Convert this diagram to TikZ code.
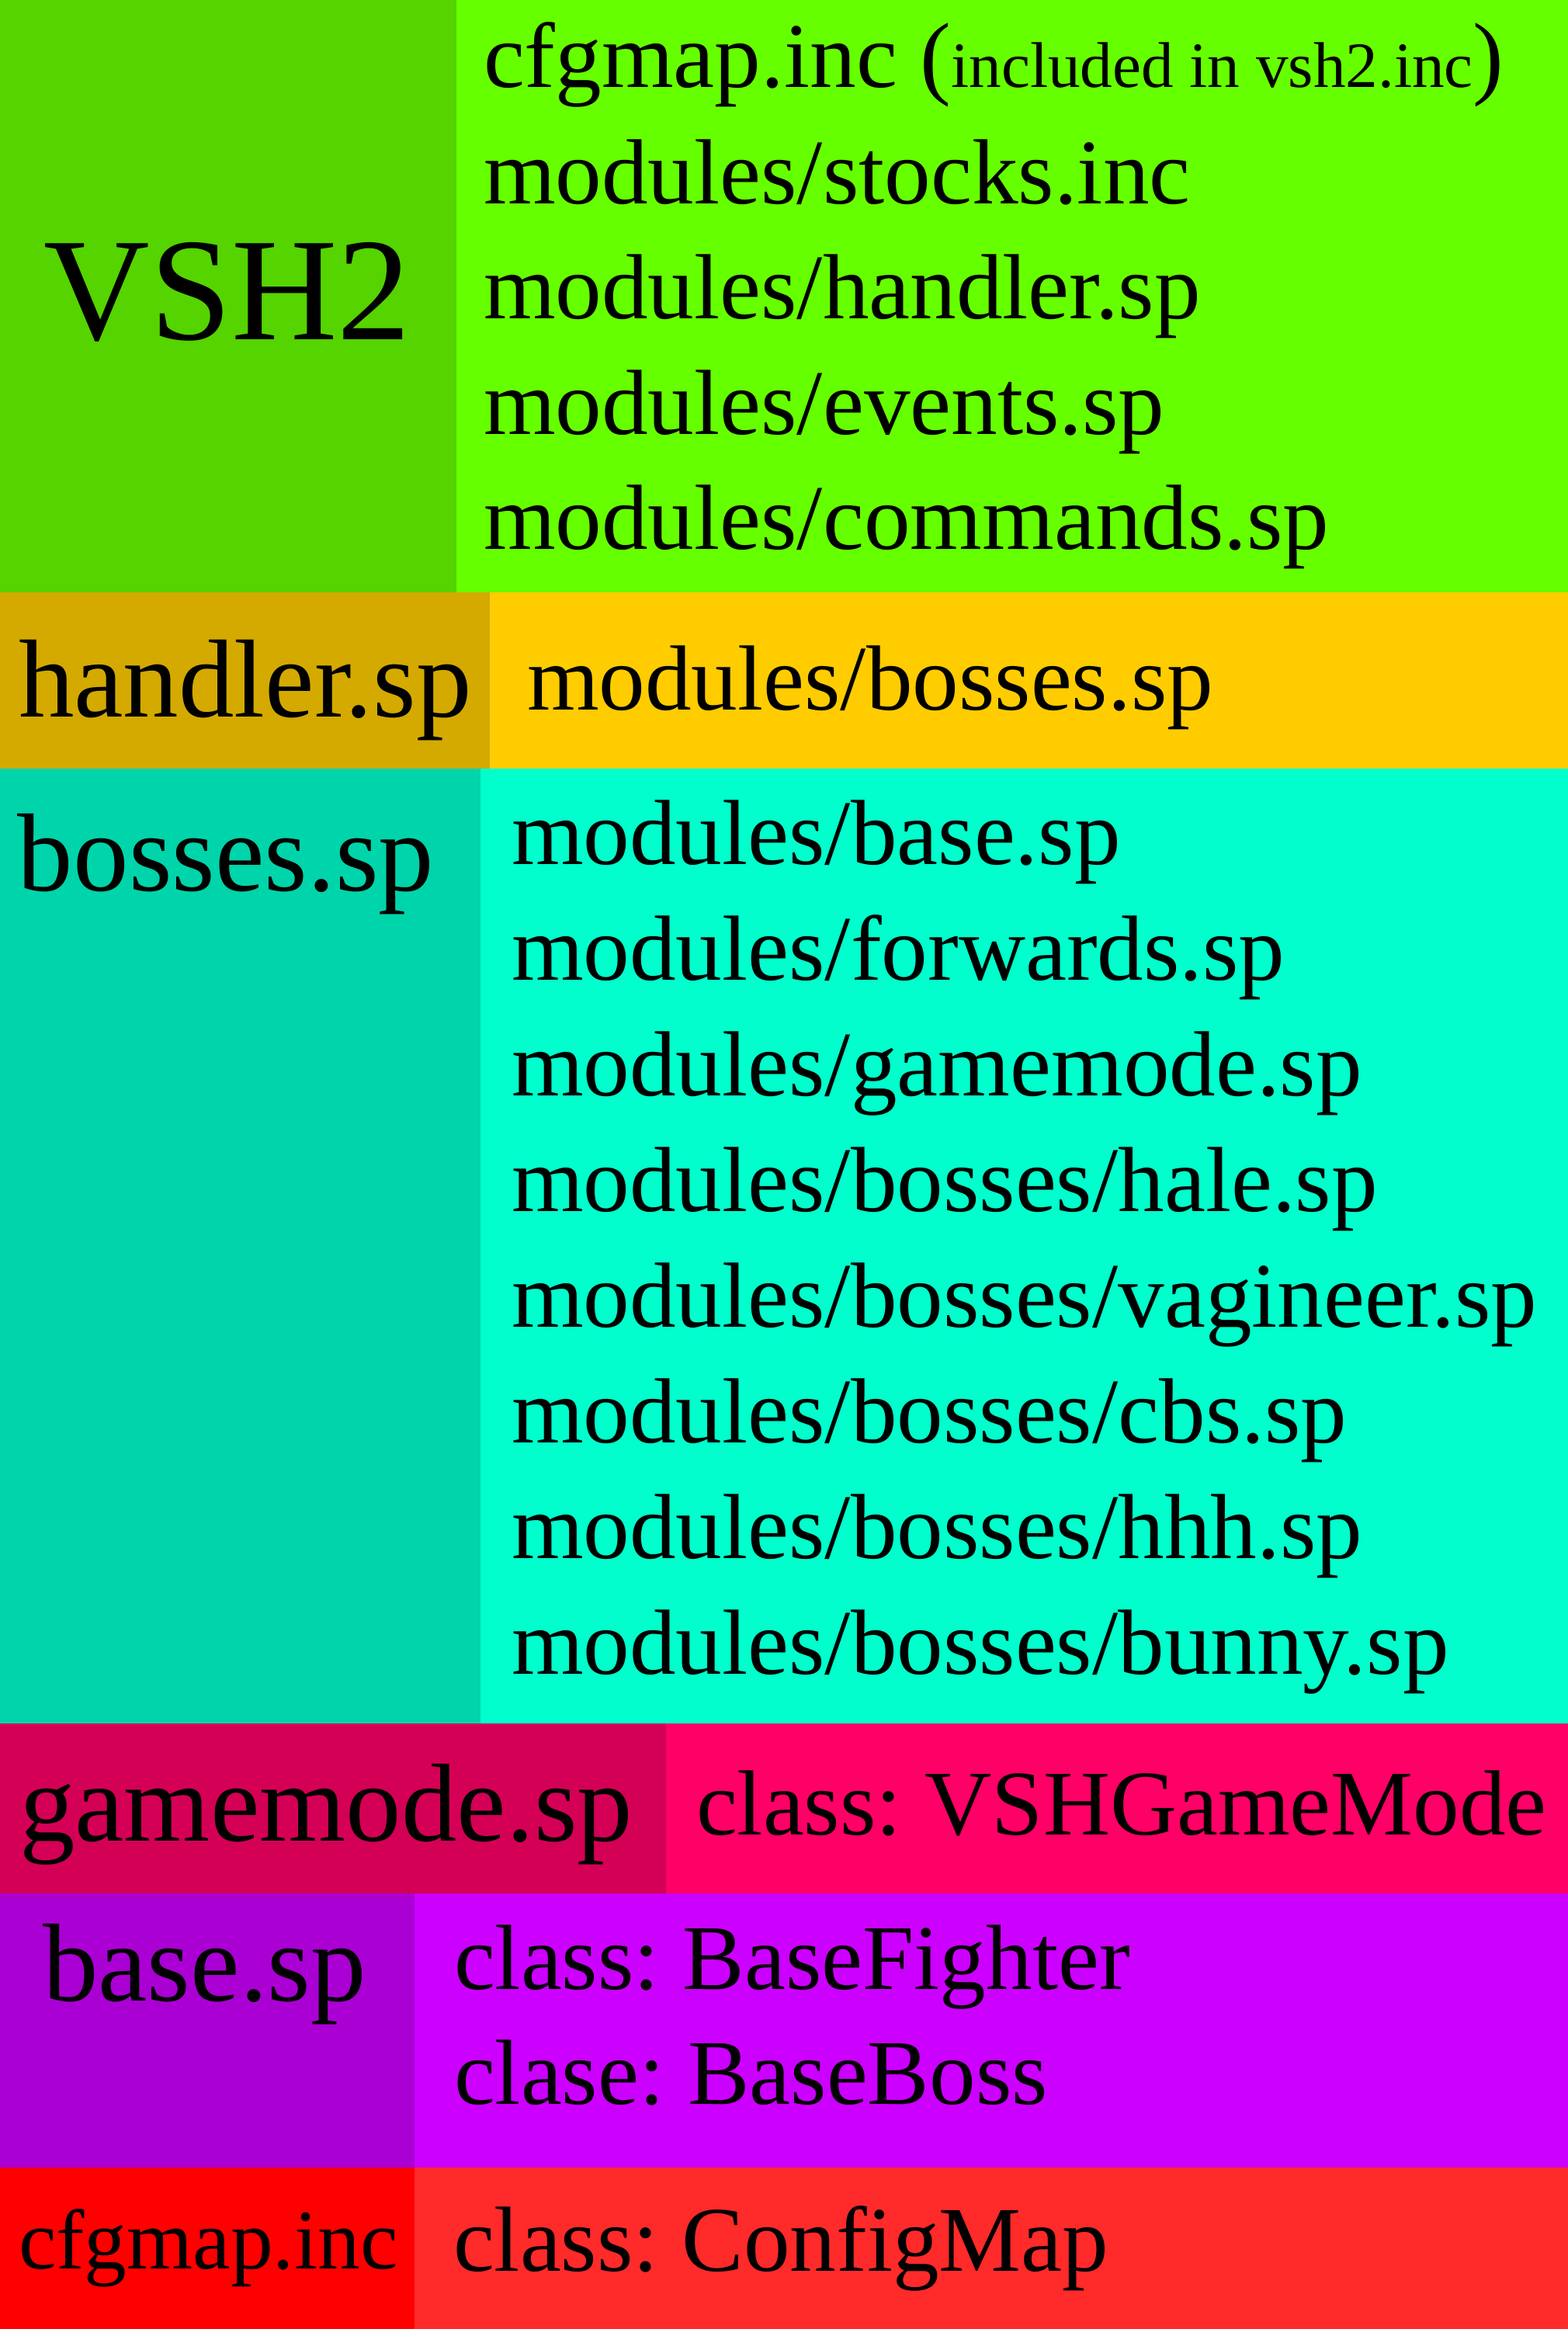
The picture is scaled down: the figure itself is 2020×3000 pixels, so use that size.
\documentclass[tikz,border=0pt]{standalone}
\usepackage{fontspec}
\setmainfont{Liberation Serif}

% band colours: darker title cell on the left, lighter list cell on the right
\definecolor{vshdark}{HTML}{55D400}
\definecolor{vshlight}{HTML}{66FF00}
\definecolor{handlerdark}{HTML}{D4AA00}
\definecolor{handlerlight}{HTML}{FFCC00}
\definecolor{bossesdark}{HTML}{00D4AA}
\definecolor{bosseslight}{HTML}{00FFCC}
\definecolor{gmdark}{HTML}{D40055}
\definecolor{gmlight}{HTML}{FF0066}
\definecolor{basedark}{HTML}{AA00D4}
\definecolor{baselight}{HTML}{CC00FF}
\definecolor{cfgdark}{HTML}{FF0000}
\definecolor{cfglight}{HTML}{FF2A2A}

\newcommand{\bodysize}{\fontsize{119.2}{140}\selectfont}
\newcommand{\smallsize}{\fontsize{83.2}{96}\selectfont}
\frenchspacing

\begin{document}
\begin{tikzpicture}[x=1pt,y=-1pt,
  lbl/.style={anchor=base west, inner sep=0pt, outer sep=0pt, text=black},
  body/.style={lbl, font=\bodysize},
  head/.style={lbl, font=\fontsize{143}{170}\selectfont}]
\useasboundingbox (0,0) rectangle (2020,3000);

% ---- cells ----
\fill[vshdark]      (0,0)    rectangle (588,763);
\fill[vshlight]     (588,0)  rectangle (2020,763);
\fill[handlerdark]  (0,763)  rectangle (631,990);
\fill[handlerlight] (631,763) rectangle (2020,990);
\fill[bossesdark]   (0,990)  rectangle (619,2220);
\fill[bosseslight]  (619,990) rectangle (2020,2220);
\fill[gmdark]       (0,2220) rectangle (858,2439);
\fill[gmlight]      (858,2220) rectangle (2020,2439);
\fill[basedark]     (0,2439) rectangle (534,2792);
\fill[baselight]    (534,2439) rectangle (2020,2792);
\fill[cfgdark]      (0,2792) rectangle (534,3000);
\fill[cfglight]     (534,2792) rectangle (2020,3000);

% ---- VSH2 band ----
\node[lbl, anchor=base, font=\fontsize{189}{220}\selectfont] (vsh) at (293,437) {VSH2};
\node[body] (vshA) at (623,113) {cfgmap.inc (\smallsize included in vsh2.inc\bodysize)};
\node[body] (vshB) at (623,262) {modules/stocks.inc};
\node[body] (vshC) at (623,410) {modules/handler.sp};
\node[body] (vshD) at (623,559) {modules/events.sp};
\node[body] (vshE) at (623,707) {modules/commands.sp};

% ---- handler band ----
\node[head] (handler) at (24,923) {handler.sp};
\node[body] (handlerA) at (679,914) {modules/bosses.sp};

% ---- bosses band ----
\node[head] (bosses) at (23,1147) {bosses.sp};
\node[body] (bossA) at (659,1113) {modules/base.sp};
\node[body] (bossB) at (659,1262) {modules/forwards.sp};
\node[body] (bossC) at (659,1411) {modules/gamemode.sp};
\node[body] (bossD) at (659,1560) {modules/bosses/hale.sp};
\node[body] (bossE) at (659,1709) {modules/bosses/vagineer.sp};
\node[body] (bossF) at (659,1858) {modules/bosses/cbs.sp};
\node[body] (bossG) at (659,2007) {modules/bosses/hhh.sp};
\node[body] (bossH) at (659,2156) {modules/bosses/bunny.sp};

% ---- gamemode band ----
\node[head] (gamemode) at (25,2371) {gamemode.sp};
\node[body] (gamemodeA) at (897,2363) {class: VSHGameMode};

% ---- base band ----
\node[head] (base) at (55,2577) {base.sp};
\node[body] (baseA) at (585,2562) {class: BaseFighter};
\node[body] (baseB) at (585,2710) {clase: BaseBoss};

% ---- cfgmap band ----
\node[lbl, font=\fontsize{109.3}{130}\selectfont] (cfg) at (24,2922) {cfgmap.inc};
\node[body] (cfgA) at (584,2925) {class: ConfigMap};
\end{tikzpicture}
\end{document}
